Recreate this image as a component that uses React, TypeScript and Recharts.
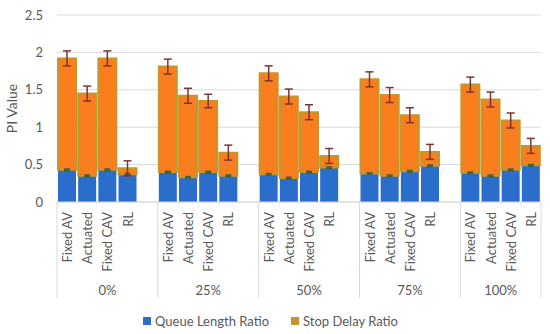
import React from 'react';
import { BarChart, Bar, XAxis, YAxis, CartesianGrid, ErrorBar, Legend } from 'recharts';

const groups = ['0%', '25%', '50%', '75%', '100%'];
const methods = ['Fixed AV', 'Actuated', 'Fixed CAV', 'RL'];

// Queue Length Ratio per group (Fixed AV, Actuated, Fixed CAV, RL)
const queue0 = [0.43, 0.35, 0.43, 0.37];
const queue25 = [0.40, 0.33, 0.40, 0.35];
const queue50 = [0.37, 0.32, 0.40, 0.46];
const queue75 = [0.38, 0.35, 0.41, 0.485];
const queue100 = [0.39, 0.35, 0.43, 0.49];

// Stop Delay Ratio per group
const delay0 = [1.49, 1.10, 1.49, 0.08];
const delay25 = [1.41, 1.09, 0.95, 0.31];
const delay50 = [1.35, 1.09, 0.80, 0.155];
const delay75 = [1.26, 1.08, 0.75, 0.185];
const delay100 = [1.18, 1.02, 0.66, 0.26];

// error magnitudes
const queueErr = [0.01, 0.01, 0.01, 0.01];
const delayErr0 = [0.1, 0.1, 0.1, 0.1];
const delayErr25 = [0.1, 0.1, 0.09, 0.1];
const delayErr50 = [0.1, 0.1, 0.1, 0.1];
const delayErr75 = [0.1, 0.1, 0.1, 0.1];
const delayErr100 = [0.1, 0.1, 0.1, 0.1];

const yTicks = [0, 0.5, 1, 1.5, 2, 2.5];

const queueAll = [queue0, queue25, queue50, queue75, queue100];
const delayAll = [delay0, delay25, delay50, delay75, delay100];
const delayErrAll = [delayErr0, delayErr25, delayErr50, delayErr75, delayErr100];

type Row = {
  name: string;
  group: string;
  gi: number;
  pos: number;
  slots: number;
  queue?: number;
  delay?: number;
  qErr?: number;
  dErr?: number;
};

const data: Row[] = [];
groups.forEach((g, gi) => {
  const slots = gi === groups.length - 1 ? 4 : 5;
  methods.forEach((m, mi) => {
    data.push({
      name: m,
      group: g,
      gi,
      pos: mi,
      slots,
      queue: queueAll[gi][mi],
      delay: delayAll[gi][mi],
      qErr: queueErr[mi],
      dErr: delayErrAll[gi][mi],
    });
  });
  if (gi !== groups.length - 1) {
    data.push({ name: '', group: g, gi, pos: 4, slots });
  }
});

const BLUE = '#2B6DCA';
const ORANGE = '#FB7E1E';
const GOLD = '#C3972C';
const TEXT = '#595959';
const FONT = 'Lato, "Open Sans", sans-serif';

const MethodTick = (props: any) => {
  const { x, y, payload, index } = props;
  const half = payload && payload.offset ? payload.offset : 484 / 24 / 2;
  const row = data[index];
  const els: any[] = [];
  if (row && row.pos === 0) {
    const left = x - half;
    els.push(
      <line key="d" x1={left} x2={left} y1={y - 8} y2={y + 88} stroke="#d9d9d9" strokeWidth={1} />
    );
    const cx = left + (row.slots * half * 2) / 2;
    els.push(
      <text
        key="g"
        x={cx}
        y={y + 80}
        textAnchor="middle"
        dominantBaseline="central"
        fill={TEXT}
        fontSize={13}
        fontFamily={FONT}
      >
        {row.group}
      </text>
    );
  }
  if (index === data.length - 1) {
    const right = x + half;
    els.push(
      <line key="r" x1={right} x2={right} y1={y - 8} y2={y + 88} stroke="#d9d9d9" strokeWidth={1} />
    );
  }
  if (payload && payload.value) {
    els.push(
      <text
        key="t"
        x={x}
        y={y + 2}
        transform={`rotate(-90 ${x} ${y + 2})`}
        textAnchor="end"
        dominantBaseline="central"
        fill={TEXT}
        fontSize={13}
        fontFamily={FONT}
      >
        {payload.value}
      </text>
    );
  }
  return <g>{els}</g>;
};

const LegendContent = () => (
  <div
    style={{
      height: 27,
      display: 'flex',
      justifyContent: 'center',
      alignItems: 'center',
      gap: 22,
      fontFamily: FONT,
      fontSize: 13,
      color: TEXT,
      paddingLeft: 0,
    }}
  >
    <div style={{ display: 'flex', alignItems: 'center' }}>
      <span style={{ width: 8, height: 8, background: BLUE, display: 'inline-block', marginRight: 4 }} />
      <span>Queue Length Ratio</span>
    </div>
    <div style={{ display: 'flex', alignItems: 'center' }}>
      <span style={{ width: 8, height: 8, background: GOLD, display: 'inline-block', marginRight: 4 }} />
      <span>Stop Delay Ratio</span>
    </div>
  </div>
);

export default function App() {
  return (
    <div style={{ width: 550, height: 334, background: '#fff' }}>
      <style>{'body{margin:0}'}</style>
      <BarChart
        width={550}
        height={334}
        data={data}
        margin={{ top: 15, right: 9, left: 0, bottom: 0 }}
        barCategoryGap={1}
      >
        <CartesianGrid vertical={false} stroke="#d9d9d9" />
        <XAxis
          dataKey="name"
          interval={0}
          height={105}
          tickLine={false}
          axisLine={{ stroke: '#d9d9d9' }}
          tick={<MethodTick />}
        />
        <YAxis
          domain={[0, 2.5]}
          ticks={yTicks}
          width={57}
          axisLine={false}
          tickLine={false}
          tickMargin={8}
          tick={{ fill: TEXT, fontSize: 13, fontFamily: FONT }}
          label={{
            value: 'PI Value',
            angle: -90,
            position: 'insideLeft',
            offset: 12,
            style: { textAnchor: 'middle', fill: TEXT, fontSize: 14, fontFamily: FONT },
          }}
        />
        <Legend verticalAlign="bottom" height={27} content={<LegendContent />} />
        <Bar dataKey="queue" stackId="a" fill={BLUE} isAnimationActive={false} name="Queue Length Ratio">
          <ErrorBar dataKey="qErr" width={3} stroke="#3d5f3a" strokeWidth={1.5} />
        </Bar>
        <Bar
          dataKey="delay"
          stackId="a"
          fill={ORANGE}
          stroke={GOLD}
          strokeWidth={2}
          isAnimationActive={false}
          name="Stop Delay Ratio"
        >
          <ErrorBar dataKey="dErr" width={4} stroke="#7a3434" strokeWidth={1.5} />
        </Bar>
      </BarChart>
    </div>
  );
}
